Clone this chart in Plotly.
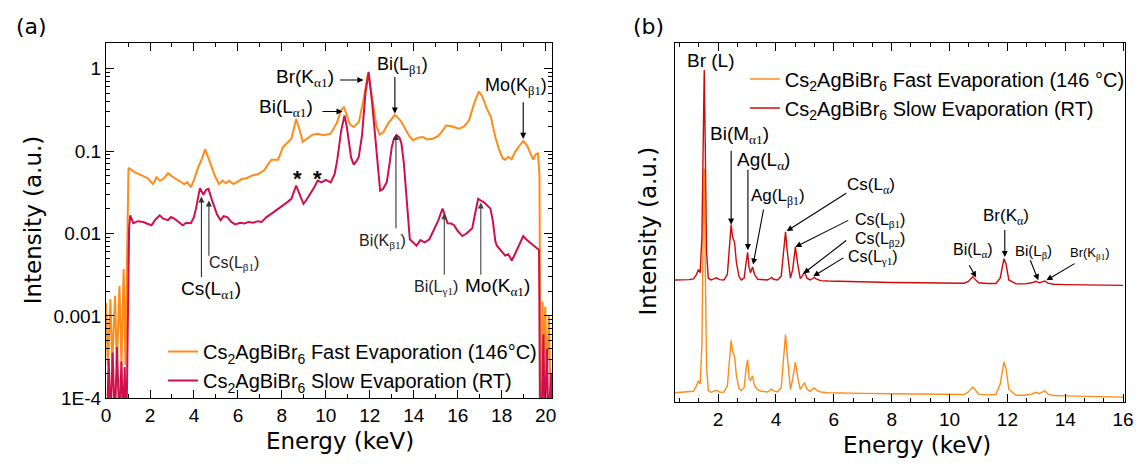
import plotly.graph_objects as go
import math

# ---------------- Panel (a) data (log scale) ----------------
E_fast_a = [0.0, 0.08, 0.2, 0.28, 0.41, 0.49, 0.61, 0.7, 0.8, 0.88, 1.02, 1.1, 1.32, 1.5, 1.69, 1.9, 2.05, 2.14,
            2.3, 2.45, 2.6, 2.82, 3.0, 3.19, 3.4, 3.56, 3.7, 3.86, 4.0, 4.16, 4.35, 4.51, 4.65, 4.76, 4.95,
            5.14, 5.3, 5.45, 5.59, 5.8, 6.0, 6.18, 6.4, 6.6, 6.93, 7.2, 7.4, 7.53, 7.83, 8.05, 8.25, 8.43,
            8.55, 8.65, 8.78, 8.95, 9.2, 9.4, 9.63, 9.9, 10.22, 10.5, 10.7, 10.82, 10.95, 11.1, 11.27, 11.5,
            11.7, 11.92, 12.1, 12.3, 12.45, 12.62, 12.85, 13.14, 13.4, 13.59, 13.8, 13.97, 14.2, 14.41, 14.6,
            14.86, 15.1, 15.3, 15.47, 15.7, 15.9, 16.06, 16.3, 16.51, 16.75, 16.96, 17.1, 17.33, 17.5, 17.71,
            17.9, 18.05, 18.16, 18.3, 18.45, 18.61, 18.8, 18.98, 19.15, 19.3, 19.43, 19.55, 19.65, 19.72,
            19.78, 19.86, 19.92, 19.98, 20.05, 20.15, 20.22, 20.3]
I_fast_a = [1.45e-3, 2.5e-4, 1.6e-3, 2.5e-4, 1.75e-3, 2.5e-4, 2.3e-3, 2.5e-4, 3.7e-3, 2.5e-4, 0.0624, 0.0603,
            0.055, 0.0525, 0.050, 0.0468, 0.0417, 0.0398, 0.0479, 0.0437, 0.0457, 0.0537, 0.049, 0.0457,
            0.0427, 0.0398, 0.0417, 0.0363, 0.0447, 0.0603, 0.0794, 0.1047, 0.083, 0.0684, 0.050, 0.0398,
            0.0437, 0.0407, 0.0437, 0.0398, 0.0427, 0.0457, 0.0468, 0.050, 0.0525, 0.0589, 0.0708, 0.0785,
            0.0785, 0.112, 0.126, 0.141, 0.19, 0.245, 0.19, 0.129, 0.145, 0.158, 0.162, 0.155, 0.162, 0.219,
            0.316, 0.339, 0.275, 0.209, 0.195, 0.224, 0.398, 0.89, 0.447, 0.2, 0.158, 0.17, 0.219, 0.275,
            0.234, 0.186, 0.151, 0.135, 0.145, 0.148, 0.138, 0.141, 0.151, 0.174, 0.204, 0.2, 0.19, 0.186,
            0.2, 0.234, 0.38, 0.525, 0.468, 0.324, 0.263, 0.148, 0.1, 0.0813, 0.0785, 0.0851, 0.0794, 0.0977,
            0.115, 0.132, 0.117, 0.0955, 0.0785, 0.091, 0.0933, 0.05, 1e-5, 1.5e-3, 2e-4, 1.3e-3, 2e-4,
            1.0e-3, 1e-5, 1e-5]

E_slow_a = [0.0, 0.04, 0.12, 0.2, 0.3, 0.4, 0.5, 0.6, 0.7, 0.78, 0.85, 0.9, 0.95, 1.05, 1.1, 1.24, 1.45, 1.69,
            1.85, 2.07, 2.25, 2.44, 2.6, 2.82, 2.95, 3.11, 3.3, 3.49, 3.65, 3.86, 4.0, 4.09, 4.27, 4.43, 4.55,
            4.66, 4.8, 4.91, 5.05, 5.21, 5.35, 5.51, 5.7, 5.88, 6.1, 6.3, 6.48, 6.7, 6.9, 7.08, 7.3, 7.53, 7.8,
            8.05, 8.25, 8.43, 8.55, 8.65, 8.8, 8.98, 9.1, 9.25, 9.45, 9.63, 9.8, 10.0, 10.22, 10.4, 10.52,
            10.7, 10.85, 10.95, 11.05, 11.15, 11.27, 11.4, 11.5, 11.65, 11.8, 11.95, 12.1, 12.25, 12.38, 12.47,
            12.6, 12.77, 12.9, 13.0, 13.1, 13.22, 13.35, 13.44, 13.55, 13.67, 13.82, 13.95, 14.12, 14.3, 14.5,
            14.71, 14.94, 15.1, 15.31, 15.45, 15.54, 15.7, 15.84, 16.0, 16.21, 16.4, 16.66, 16.8, 16.93, 17.05,
            17.18, 17.3, 17.49, 17.6, 17.71, 17.78, 17.95, 18.16, 18.3, 18.46, 18.6, 18.76, 18.98, 19.15, 19.28,
            19.45, 19.58, 19.7, 19.76, 19.9, 19.95, 20.06, 20.12, 20.25, 20.3]
I_slow_a = [1e-5, 5e-5, 3.0e-4, 5e-5, 3.6e-4, 5e-5, 4.2e-4, 5e-5, 2.8e-4, 5e-5, 2.4e-4, 5e-5, 1.2e-4, 0.012,
            0.0166, 0.0133, 0.0141, 0.0138, 0.0132, 0.0126, 0.0148, 0.0166, 0.0151, 0.0145, 0.0158, 0.0151,
            0.0138, 0.0126, 0.0135, 0.0133, 0.0158, 0.02, 0.0355, 0.0295, 0.0339, 0.0347, 0.0263, 0.0219,
            0.017, 0.0145, 0.0162, 0.0158, 0.0138, 0.0129, 0.0135, 0.0132, 0.0138, 0.0135, 0.0141, 0.0138,
            0.0158, 0.0174, 0.0195, 0.0219, 0.024, 0.0263, 0.0331, 0.038, 0.0302, 0.0229, 0.0251, 0.0288,
            0.0355, 0.0437, 0.0417, 0.0447, 0.0417, 0.0525, 0.0785, 0.178, 0.269, 0.2, 0.123, 0.083, 0.0684,
            0.0759, 0.0851, 0.158, 0.5, 0.912, 0.398, 0.135, 0.05, 0.0331, 0.0347, 0.0417, 0.0708, 0.112,
            0.141, 0.155, 0.145, 0.123, 0.0708, 0.0288, 0.0085, 0.0079, 0.0071, 0.0083, 0.0078, 0.0085, 0.0116,
            0.0141, 0.02, 0.0158, 0.0133, 0.0132, 0.0126, 0.0107, 0.0093, 0.01, 0.0116, 0.0178, 0.0263, 0.0251,
            0.024, 0.0224, 0.02, 0.0141, 0.0081, 0.0071, 0.0063, 0.0054, 0.0056, 0.0047, 0.0056, 0.0068, 0.0093,
            0.0083, 0.0078, 0.0072, 0.0068, 0.0063, 1e-5, 6e-4, 5e-5, 4e-4, 5e-5, 2e-4, 5e-5]

# ---------------- Panel (b) data (linear, arbitrary units) ----------------
E_b = [0.5, 0.8, 1.0, 1.15, 1.25, 1.32, 1.38, 1.44, 1.49, 1.52, 1.55, 1.60, 1.66, 1.75, 1.85, 1.94, 2.05, 2.2,
       2.32, 2.40, 2.45, 2.50, 2.57, 2.63, 2.72, 2.80, 2.90, 2.97, 3.02, 3.07, 3.12, 3.19, 3.26, 3.37, 3.5, 3.7,
       3.8, 3.85, 3.92, 4.05, 4.18, 4.27, 4.33, 4.39, 4.50, 4.58, 4.67, 4.75, 4.84, 4.92, 4.99, 5.07, 5.18,
       5.27, 5.33, 5.40, 5.55, 5.8, 6.2, 7, 8, 9, 10, 10.5, 10.65, 10.75, 10.80, 10.87, 11.0, 11.3, 11.6,
       11.75, 11.83, 11.88, 11.95, 12.05, 12.3, 12.6, 12.85, 12.98, 13.10, 13.2, 13.29, 13.4, 13.6, 14, 15, 16]
I_fast_b = [0.026, 0.027, 0.028, 0.030, 0.045, 0.059, 0.050, 0.16, 0.52, 0.65, 0.42, 0.10, 0.032, 0.027, 0.030,
            0.033, 0.028, 0.027, 0.045, 0.14, 0.172, 0.14, 0.127, 0.075, 0.038, 0.032, 0.040, 0.095, 0.118,
            0.065, 0.060, 0.073, 0.045, 0.034, 0.030, 0.028, 0.032, 0.036, 0.031, 0.028, 0.040, 0.14, 0.188,
            0.13, 0.035, 0.065, 0.111, 0.07, 0.035, 0.045, 0.054, 0.036, 0.030, 0.036, 0.039, 0.033, 0.028,
            0.026, 0.025, 0.024, 0.023, 0.022, 0.021, 0.021, 0.028, 0.038, 0.041, 0.036, 0.022, 0.020, 0.021,
            0.05, 0.095, 0.111, 0.095, 0.035, 0.019, 0.019, 0.022, 0.027, 0.023, 0.028, 0.032, 0.022, 0.018,
            0.017, 0.015, 0.0136]
I_slow_b = [0.040, 0.040, 0.041, 0.043, 0.055, 0.069, 0.060, 0.16, 0.55, 0.625, 0.45, 0.12, 0.045, 0.040, 0.043,
            0.046, 0.041, 0.040, 0.055, 0.15, 0.194, 0.16, 0.144, 0.09, 0.050, 0.040, 0.045, 0.09, 0.117, 0.075,
            0.060, 0.076, 0.055, 0.042, 0.041, 0.040, 0.044, 0.047, 0.042, 0.040, 0.050, 0.13, 0.174, 0.12,
            0.045, 0.07, 0.132, 0.085, 0.044, 0.052, 0.063, 0.045, 0.040, 0.044, 0.047, 0.042, 0.038, 0.037,
            0.036, 0.035, 0.033, 0.032, 0.031, 0.031, 0.036, 0.046, 0.049, 0.043, 0.032, 0.030, 0.030, 0.045,
            0.085, 0.099, 0.085, 0.040, 0.029, 0.029, 0.032, 0.036, 0.032, 0.034, 0.037, 0.031, 0.028, 0.027,
            0.026, 0.025]
SLOW_OFFSET_B = 0.30

ytickvals_a = [1e-4, 1e-3, 1e-2, 1e-1, 1]
yticktext_a = ["1E-4", "0.001", "0.01", "0.1", "1"]

LEG_FAST_A = "Cs<sub>2</sub>AgBiBr<sub>6</sub> Fast Evaporation (146°C)"
LEG_SLOW_A = "Cs<sub>2</sub>AgBiBr<sub>6</sub> Slow Evaporation (RT)"
LEG_FAST_B = "Cs<sub>2</sub>AgBiBr<sub>6</sub> Fast Evaporation (146 °C)"
LEG_SLOW_B = "Cs<sub>2</sub>AgBiBr<sub>6</sub> Slow Evaporation (RT)"

ORANGE = "#FF8C1A"
CRIMSON = "#D0104A"
RED_B = "#CC0A0A"
SANS = "Liberation Sans, Arial, sans-serif"
TITLEF = "DejaVu Sans, Verdana, sans-serif"


def g(s):
    return '<sub><span style="font-family:Liberation Serif">' + s + '</span></sub>'


W, H = 1146, 468
fig = go.Figure()

fig.add_trace(go.Scatter(x=E_fast_a, y=I_fast_a, mode="lines", line=dict(color=ORANGE, width=2),
                         name=LEG_FAST_A, xaxis="x", yaxis="y", legend="legend"))
fig.add_trace(go.Scatter(x=E_slow_a, y=I_slow_a, mode="lines", line=dict(color=CRIMSON, width=2),
                         name=LEG_SLOW_A, xaxis="x", yaxis="y", legend="legend"))
fig.add_trace(go.Scatter(x=E_b, y=I_fast_b, mode="lines", line=dict(color=ORANGE, width=1.4),
                         name=LEG_FAST_B, xaxis="x2", yaxis="y2", legend="legend2"))
fig.add_trace(go.Scatter(x=E_b, y=[v + SLOW_OFFSET_B for v in I_slow_b], mode="lines",
                         line=dict(color=RED_B, width=1.4),
                         name=LEG_SLOW_B, xaxis="x2", yaxis="y2", legend="legend2"))

minor_log = [m * 10 ** d for d in range(-4, 1) for m in range(2, 10)]

axcommon = dict(showline=True, linecolor="black", linewidth=1.2, ticks="inside", tickcolor="black",
                tickwidth=1.2, ticklen=8, showgrid=False, zeroline=False,
                tickfont=dict(family=SANS, size=19, color="black"))

fig.update_layout(
    width=W, height=H, margin=dict(l=0, r=0, t=0, b=0),
    paper_bgcolor="white", plot_bgcolor="white", showlegend=True,
    xaxis=dict(domain=[102.3 / W, 554 / W], range=[0, 20.3], tick0=0, dtick=2, mirror="ticks",
               minor=dict(dtick=1, tick0=0, ticks="inside", ticklen=4, tickcolor="black"),
               anchor="y", **axcommon),
    yaxis=dict(domain=[1 - 408 / H, 1 - 44 / H], type="log", range=[-4.0, 0.31], tickvals=ytickvals_a,
               ticktext=yticktext_a, mirror="ticks",
               minor=dict(tickvals=minor_log, ticks="inside", ticklen=4, tickcolor="black"),
               anchor="x", **axcommon),
    xaxis2=dict(domain=[678 / W, 1134 / W], range=[0.5, 16.07], tick0=0, dtick=2, mirror="ticks",
                minor=dict(dtick=2 / 3, tick0=0, ticks="inside", ticklen=4, tickcolor="black"),
                anchor="y2", **axcommon),
    yaxis2=dict(domain=[1 - 411.7 / H, 1 - 44 / H], range=[0, 1], showline=True, linecolor="black",
                linewidth=1.2, mirror=True, ticks="", showticklabels=False, showgrid=False,
                zeroline=False, anchor="x2"),
    legend=dict(x=160 / W, y=1 - 340 / H, xanchor="left", yanchor="top", bgcolor="rgba(0,0,0,0)",
                font=dict(family=SANS, size=20, color="black"), tracegroupgap=0, itemwidth=30),
    legend2=dict(x=749 / W, y=1 - 61 / H, xanchor="left", yanchor="top", bgcolor="rgba(0,0,0,0)",
                 font=dict(family=SANS, size=20, color="black"), tracegroupgap=0, itemwidth=30),
)

ann = []


def text(x, y, t, xref, yref, size=19, color="black", font=SANS, angle=0):
    ann.append(dict(x=x, y=y, xref=xref, yref=yref, text=t, showarrow=False, textangle=angle,
                    font=dict(family=font, size=size, color=color), xanchor="center", yanchor="middle"))


def arrow(x0, y0, x1, y1, xr, yr, color="black"):
    ann.append(dict(x=x1, y=y1, ax=x0, ay=y0, xref=xr, yref=yr, axref=xr, ayref=yr, text="",
                    showarrow=True, arrowhead=2, arrowsize=1.1, arrowwidth=1.1, arrowcolor=color))


# panel (a) labels (y in log10 units for annotations on log axis)
text(9.05, -0.118, "Br(K" + g("α1") + ")", "x", "y", 19)
arrow(10.58, -0.139, 11.71, -0.139, "x", "y")
text(8.2, -0.474, "Bi(L" + g("α1") + ")", "x", "y", 19)
arrow(9.78, -0.521, 10.76, -0.521, "x", "y")
text(13.5, 0.036, "Bi(L" + g("β1") + ")", "x", "y", 18)
arrow(13.14, -0.083, 13.14, -0.545, "x", "y")
text(18.67, -0.213, "Mo(K" + g("β1") + ")", "x", "y", 18)
arrow(18.98, -0.391, 18.98, -0.853, "x", "y")
text(8.73, -1.33, "<b>*</b>", "x", "y", 22)
text(9.63, -1.33, "<b>*</b>", "x", "y", 22)
text(4.79, -2.69, "Cs(L" + g("α1") + ")", "x", "y", 19)
arrow(4.34, -2.547, 4.34, -1.552, "x", "y", "#333")
text(5.82, -2.37, "Cs(L" + g("β1") + ")", "x", "y", 16, "#222")
arrow(4.68, -2.287, 4.68, -1.6, "x", "y", "#333")
text(12.56, -2.097, "Bi(K" + g("β1") + ")", "x", "y", 16, "#222")
arrow(13.19, -1.955, 13.19, -0.794, "x", "y", "#333")
text(15.03, -2.654, "Bi(L" + g("γ1") + ")", "x", "y", 16, "#222")
arrow(15.39, -2.52, 15.39, -1.754, "x", "y", "#444")
text(17.81, -2.654, "Mo(K" + g("α1") + ")", "x", "y", 19)
arrow(17.05, -2.52, 17.05, -1.623, "x", "y", "#444")

# panel (b) labels
text(1.74, 0.951, "Br (L)", "x2", "y2", 19)
text(2.73, 0.744, "Bi(M" + g("α1") + ")", "x2", "y2", 19)
arrow(2.45, 0.704, 2.45, 0.494, "x2", "y2")
text(3.58, 0.671, "Ag(L" + g("α") + ")", "x2", "y2", 19)
arrow(3.03, 0.651, 3.03, 0.423, "x2", "y2")
text(4.06, 0.570, "Ag(L" + g("β1") + ")", "x2", "y2", 17)
arrow(3.58, 0.540, 3.21, 0.383, "x2", "y2")
text(7.27, 0.603, "Cs(L" + g("α") + ")", "x2", "y2", 17)
arrow(6.48, 0.584, 4.37, 0.476, "x2", "y2")
text(7.58, 0.505, "Cs(L" + g("β1") + ")", "x2", "y2", 16)
arrow(6.55, 0.508, 4.67, 0.432, "x2", "y2")
text(7.61, 0.453, "Cs(L" + g("β2") + ")", "x2", "y2", 16)
arrow(6.48, 0.453, 4.95, 0.358, "x2", "y2")
text(7.34, 0.402, "Cs(L" + g("γ1") + ")", "x2", "y2", 16)
arrow(6.38, 0.404, 5.29, 0.350, "x2", "y2")
text(10.82, 0.421, "Bi(L" + g("α") + ")", "x2", "y2", 16)
arrow(10.65, 0.385, 10.92, 0.347, "x2", "y2")
text(11.95, 0.516, "Br(K" + g("α") + ")", "x2", "y2", 17)
arrow(11.91, 0.483, 11.91, 0.404, "x2", "y2")
text(12.90, 0.418, "Bi(L" + g("β") + ")", "x2", "y2", 15)
arrow(12.77, 0.399, 13.07, 0.339, "x2", "y2")
text(14.85, 0.413, "Br(K" + g("β1") + ")", "x2", "y2", 13)
arrow(14.37, 0.388, 13.35, 0.339, "x2", "y2")

# panel labels and axis titles
text(27 / W, 1 - 27 / H, "(a)", "paper", "paper", 22, font=TITLEF)
text(651 / W, 1 - 27 / H, "(b)", "paper", "paper", 22, font=TITLEF)
text(28 / W, 1 - 225 / H, "Intensity (a.u.)", "paper", "paper", 23, font=TITLEF, angle=-90)
text(651 / W, 1 - 237 / H, "Intensity (a.u.)", "paper", "paper", 23, font=TITLEF, angle=-90)
text(339 / W, 1 - 452 / H, "Energy (keV)", "paper", "paper", 23, font=TITLEF)
text(923 / W, 1 - 456 / H, "Energy (keV)", "paper", "paper", 23, font=TITLEF)

fig.update_layout(annotations=ann)
fig.write_html("out.html")
